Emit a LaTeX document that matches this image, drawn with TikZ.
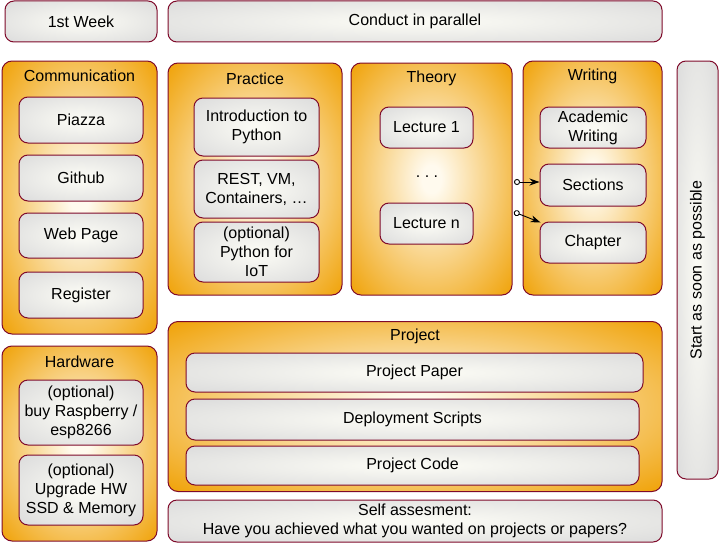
\documentclass[tikz,border=0pt]{standalone}
\usepackage{fontspec}
\setmainfont{Liberation Sans}
\usetikzlibrary{arrows.meta}
\definecolor{frame}{HTML}{7F0A2A}
\definecolor{orng}{HTML}{F0A30A}
\definecolor{cream}{HTML}{FFFAEE}
\definecolor{grey}{HTML}{DCDCDC}
\definecolor{pale}{HTML}{FAFAF4}
\pgfdeclareradialshading{glow}{\pgfpoint{0bp}{0bp}}{color(0bp)=(cream); color(3bp)=(cream); color(35bp)=(orng); color(50bp)=(orng)}
\pgfdeclareradialshading{silver}{\pgfpoint{0bp}{0bp}}{color(0bp)=(pale); color(3bp)=(pale); color(35bp)=(grey); color(50bp)=(grey)}
\begin{document}
\begin{tikzpicture}[x=1pt, y=-1pt,
  every node/.style={font=\fontsize{16}{19}\selectfont, align=center, inner sep=1pt},
  wh/.style 2 args={minimum width=#1, minimum height=#2},
  group/.style={draw=frame, line width=1pt, rounded corners=10pt, shading=glow},
  item/.style={draw=frame, line width=1pt, rounded corners=9pt, shading=silver},
  link/.style={{Circle[open, fill=white, length=6pt]}-{Stealth[length=10pt, width=7pt]}, line width=0.9pt}]
\useasboundingbox (0,0) rectangle (719,543);

% top row
\node[item, wh={152}{41}] (week) at (81,21.5) {1st Week};
\node[item, wh={494}{41}] (par) at (415,21.5) {Conduct in parallel};

% containers
\node[group, wh={155}{273}] (comm) at (79.5,197.5) {};
\node[group, wh={155}{195}] (hw) at (79.5,443.5) {};
\node[group, wh={174}{232}] (prac) at (255,179) {};
\node[group, wh={161}{232}] (theory) at (431.5,179) {};
\node[group, wh={139}{234}] (writing) at (592.5,178) {};
\node[group, wh={494}{170}] (proj) at (415,406.5) {};
\node[item, wh={494}{42}] (self) at (415,521) {Self assesment:\\Have you achieved what you wanted on projects or papers?};
\node[item, wh={418}{41}, rotate=90] (asap) at (697.5,270) {Start as soon as possible};

% titles
\node (commT) at (79.5,76) {Communication};
\node (hwT) at (79.5,362) {Hardware};
\node (pracT) at (255,79) {Practice};
\node (theoryT) at (431.5,78) {Theory};
\node (writingT) at (592.5,76) {Writing};
\node (projT) at (415,336) {Project};

% communication
\node[item, wh={124}{46}] (piazza) at (81,120) {Piazza};
\node[item, wh={124}{46}] (github) at (81,178) {Github};
\node[item, wh={124}{45}] (web) at (81,235.5) {Web Page};
\node[item, wh={124}{46}] (reg) at (81,295) {Register};

% hardware
\node[item, wh={124}{65}] (rasp) at (81,412.5) {(optional)\\buy Raspberry /\\esp8266};
\node[item, wh={124}{70}] (upg) at (81,490) {(optional)\\Upgrade HW\\SSD \& Memory};

% practice
\node[item, wh={125}{58}] (intro) at (256.5,127) {Introduction to\\Python};
\node[item, wh={125}{58}] (rest) at (256.5,189) {REST, VM,\\Containers, …};
\node[item, wh={125}{60}] (iot) at (256.5,252) {(optional)\\Python for\\IoT};

% theory
\node[item, wh={93}{41}] (lec1) at (426.5,127.5) {Lecture 1};
\node (dots) at (427,177) {.\ .\ .};
\node[item, wh={93}{41}] (lecn) at (426.5,223.5) {Lecture n};

% writing
\node[item, wh={106}{41}] (acad) at (593,127.5) {Academic\\Writing};
\node[item, wh={106}{42}] (sec) at (593,185) {Sections};
\node[item, wh={106}{41}] (chap) at (593,242.5) {Chapter};

% project
\node[item, wh={457}{39}] (paper) at (414.5,372.5) {Project Paper};
\node[item, wh={453}{41}] (deploy) at (412.5,419.5) {Deployment Scripts};
\node[item, wh={453}{39}] (code) at (412.5,465.5) {Project Code};

\coordinate (thA) at (514,182);
\coordinate (thB) at (514,212);
\draw[link] (thA) -- (thA -| sec.west);
\draw[link] (thB) -- ([shift={(1,1)}]chap.north west);
\end{tikzpicture}
\end{document}
